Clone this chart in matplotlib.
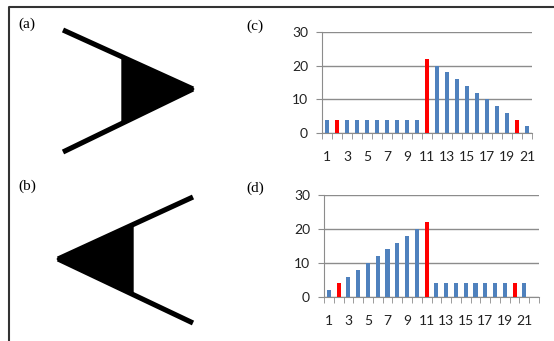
import numpy as np
import matplotlib
matplotlib.use("Agg")
import matplotlib.pyplot as plt
from matplotlib.patches import Polygon

# bar data for panels (c) and (d)
positions = np.arange(1, 22)
values_c = [4, 4, 4, 4, 4, 4, 4, 4, 4, 4, 22, 20, 18, 16, 14, 12, 10, 8, 6, 4, 2]
values_d = [2, 4, 6, 8, 10, 12, 14, 16, 18, 20, 22, 4, 4, 4, 4, 4, 4, 4, 4, 4, 4]
red_idx = [2, 11, 20]
xtick_labels = [str(i) for i in range(1, 22, 2)]
yticks = [0, 10, 20, 30]

BLUE = "#4F81BD"
RED = "#FF0000"
GRID = "#8C8C8C"

W, H = 554, 341
fig = plt.figure(figsize=(W / 100, H / 100), dpi=100)

# overlay in pixel coords for frame, shapes and panel letters
ov = fig.add_axes([0, 0, 1, 1])
ov.set_xlim(0, W)
ov.set_ylim(H, 0)
ov.axis("off")
ov.plot([9, 9, W], [H, 7, 7], color="#333333", lw=1.5)

# (a) arrow pointing right
ov.plot([63, 193], [30, 89], color="black", lw=3.7, solid_capstyle="butt")
ov.plot([63, 193], [152, 89], color="black", lw=3.7, solid_capstyle="butt")
ov.add_patch(Polygon([[122, 59], [194, 89], [122, 121]], closed=True, color="black"))
# (b) arrow pointing left
ov.plot([193, 58], [197, 259], color="black", lw=3.7, solid_capstyle="butt")
ov.plot([193, 58], [323, 259], color="black", lw=3.7, solid_capstyle="butt")
ov.add_patch(Polygon([[133, 227], [57, 259], [133, 293]], closed=True, color="black"))

serif = ["Liberation Serif", "DejaVu Serif"]
for txt, x, y in [("(a)", 18, 24), ("(b)", 18, 186), ("(c)", 246, 26), ("(d)", 246, 188)]:
    ov.text(x, y, txt, fontsize=11, family=serif, va="center", ha="left")


def bar_panel(rect, values, nslots):
    ax = fig.add_axes(rect)
    colors = [RED if p in red_idx else BLUE for p in positions]
    ax.bar(positions, values, width=0.42, color=colors, zorder=3)
    ax.set_xlim(0.5, nslots + 0.5)
    ax.set_ylim(0, 30)
    ax.set_yticks(yticks)
    ax.set_xticks(range(1, 22, 2))
    ax.set_xticklabels(xtick_labels)
    ax.set_xticks(np.arange(0.5, nslots + 1, 1), minor=True)
    ax.grid(axis="y", color=GRID, lw=1, zorder=0)
    for s in ["top", "right"]:
        ax.spines[s].set_visible(False)
    for s in ["left", "bottom"]:
        ax.spines[s].set_color(GRID)
    ax.tick_params(axis="x", which="major", length=0, pad=13, labelsize=10)
    ax.tick_params(axis="x", which="minor", length=4, color=GRID, direction="out")
    ax.tick_params(axis="y", length=4, color=GRID, pad=6, labelsize=10)
    for lab in ax.get_xticklabels() + ax.get_yticklabels():
        lab.set_family(["Lato", "DejaVu Sans"])
        lab.set_color("#222222")
    return ax


bar_panel([322 / W, (H - 133) / H, 210 / W, 101 / H], values_c, 21)
bar_panel([324 / W, (H - 297) / H, 215 / W, 102 / H], values_d, 22)

fig.savefig("out.png", dpi=100)
